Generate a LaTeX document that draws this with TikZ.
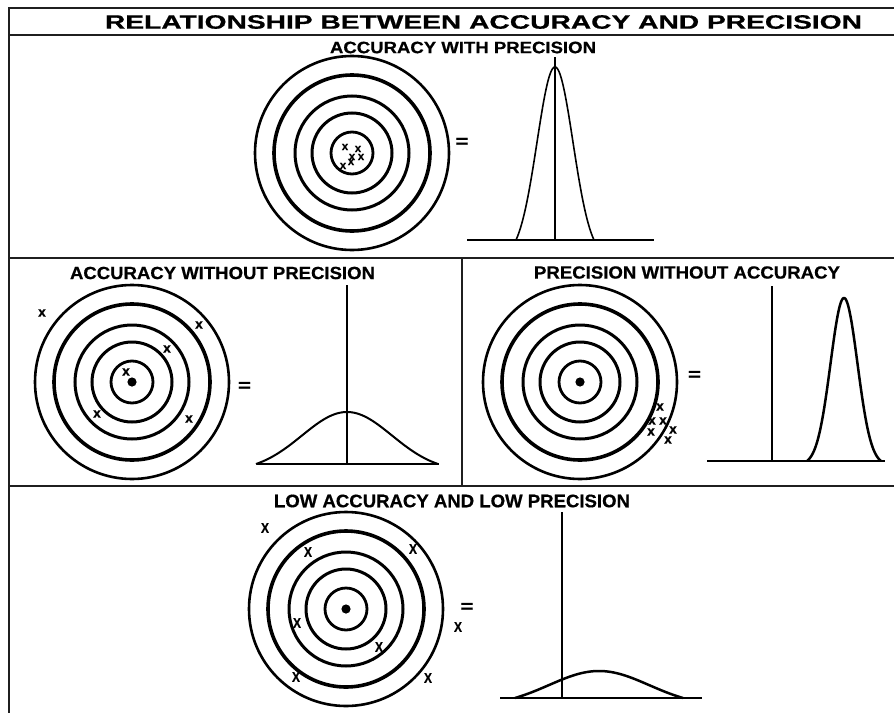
\documentclass[tikz,border=0pt]{standalone}
\usepackage{fontspec}
\setmainfont{Liberation Sans}[BoldFeatures={FakeBold=0.6}]
\usepackage{graphicx}
\newcommand{\capbox}[3]{\resizebox{#1pt}{#2pt}{\bfseries #3}}
\newcommand{\gaussc}[7]{%
  \draw[line width=#6pt, line join=round] plot[domain=-#5:#5, samples=120, smooth]
    ({#1+\x},{#2-#3*(exp(-((\x)*(\x))/(2*#4*#4))-exp(-(#5*#5)/(2*#4*#4)))/(1-exp(-(#5*#5)/(2*#4*#4)))});}
\tikzset{
  framel/.style={line width=2.4pt, draw=black!88},
  ttl/.style={inner sep=0pt, anchor=center},
  eqs/.style={inner sep=0pt, anchor=center},
  xtiny/.style={inner sep=0pt, font=\bfseries\fontsize{11.5}{11.5}\selectfont},
  xsmall/.style={inner sep=0pt, font=\bfseries\fontsize{14}{14}\selectfont},
  xbig/.style={inner sep=0pt, font=\bfseries\fontsize{14}{14}\selectfont, xscale=0.85},
  axisln/.style={line width=2pt},
  baseln/.style={line width=2.4pt},
  bullseye/.pic={
    \draw[line width=2.6pt] (0,0) circle[radius=97pt];
    \draw[line width=3.6pt] (0,0) circle[radius=78pt];
    \draw[line width=3pt] (0,0) circle[radius=57pt];
    \draw[line width=3pt] (0,0) circle[radius=40pt];
    \draw[line width=2.8pt] (0,0) circle[radius=21pt];
  }
}
\begin{document}
\begin{tikzpicture}[x=1pt,y=-1pt]
\useasboundingbox (0,0) rectangle (894,712);
\clip (0,0) rectangle (894,712);
\fill[white] (0,0) rectangle (894,712);

% frame
\draw[framel] (9,715) -- (9,8) -- (900,8);
\draw[framel] (9,35) -- (900,35);
\draw[framel] (9,258) -- (900,258);
\draw[framel] (462,258) -- (462,486);
\draw[framel] (9,486) -- (900,486);

% titles
\node[ttl] (title) at (483.5,22) {\capbox{757}{13.5}{RELATIONSHIP BETWEEN ACCURACY AND PRECISION}};
\node[ttl] (t1) at (463,47.5) {\capbox{266}{11.5}{ACCURACY WITH PRECISION}};
\node[ttl] (t2) at (222.5,273) {\capbox{305}{12.3}{ACCURACY WITHOUT PRECISION}};
\node[ttl] (t3) at (687,272.5) {\capbox{306}{12.3}{PRECISION WITHOUT ACCURACY}};
\node[ttl] (t4) at (452,501) {\capbox{356}{12.7}{LOW ACCURACY AND LOW PRECISION}};

% ---------- top panel ----------
\coordinate (c1) at (352,153);
\pic at (c1) {bullseye};
\foreach \p/\q in {345/147, 358/149, 352/157, 361/157, 343/166, 351/162}
  \node[xtiny] at (\p,\q) {x};
\node[eqs] (e1) at (462,142.5) {\capbox{13}{9}{=}};
\coordinate (a1t) at (555,57);
\coordinate (a1b) at (555,240);
\coordinate (b1l) at (467,240);
\coordinate (b1r) at (654,240);
\draw[baseln] (b1l) -- (b1r);
\draw[axisln] (a1t) -- (a1b);
\gaussc{555}{240}{173}{18}{39}{1.6}{}

% ---------- middle left ----------
\coordinate (c2) at (132,382);
\pic at (c2) {bullseye};
\fill (c2) circle[radius=4.6pt];
\foreach \p/\q in {42/313, 199/325, 167/349, 126/372, 97/414, 189/419}
  \node[xsmall] at (\p,\q) {x};
\node[eqs] (e2) at (244.5,386.5) {\capbox{13}{9}{=}};
\coordinate (a2t) at (347,285);
\coordinate (a2b) at (347,464);
\coordinate (b2l) at (257,464);
\coordinate (b2r) at (439,464);
\draw[baseln] (b2l) -- (b2r);
\draw[axisln] (a2t) -- (a2b);
\gaussc{347}{464}{52}{45}{91}{2}{}

% ---------- middle right ----------
\coordinate (c3) at (580,382);
\pic at (c3) {bullseye};
\fill (c3) circle[radius=4.6pt];
\foreach \p/\q in {660/407, 652/421, 663/421, 673/430, 651/432, 668/440}
  \node[xsmall] at (\p,\q) {x};
\node[eqs] (e3) at (694.5,375.5) {\capbox{13}{9}{=}};
\coordinate (a3t) at (772,286);
\coordinate (a3b) at (772,461);
\coordinate (b3l) at (707,461);
\coordinate (b3r) at (885,461);
\draw[baseln] (b3l) -- (b3r);
\draw[axisln] (a3t) -- (a3b);
\gaussc{844}{461}{163}{13.5}{37}{2.5}{}

% ---------- bottom ----------
\coordinate (c4) at (346,609);
\pic at (c4) {bullseye};
\fill (c4) circle[radius=4.6pt];
\foreach \p/\q in {265/528, 308/552, 413/549, 297/623, 379/647, 296/677, 428/678, 458/627}
  \node[xbig] at (\p,\q) {X};
\node[eqs] (e4) at (467,607.5) {\capbox{13}{9}{=}};
\coordinate (a4t) at (562,512);
\coordinate (a4b) at (562,698);
\coordinate (b4l) at (500,698);
\coordinate (b4r) at (702,698);
\draw[baseln] (b4l) -- (b4r);
\draw[axisln] (a4t) -- (a4b);
\gaussc{599}{698}{27}{50}{84}{2.5}{}
\end{tikzpicture}
\end{document}
